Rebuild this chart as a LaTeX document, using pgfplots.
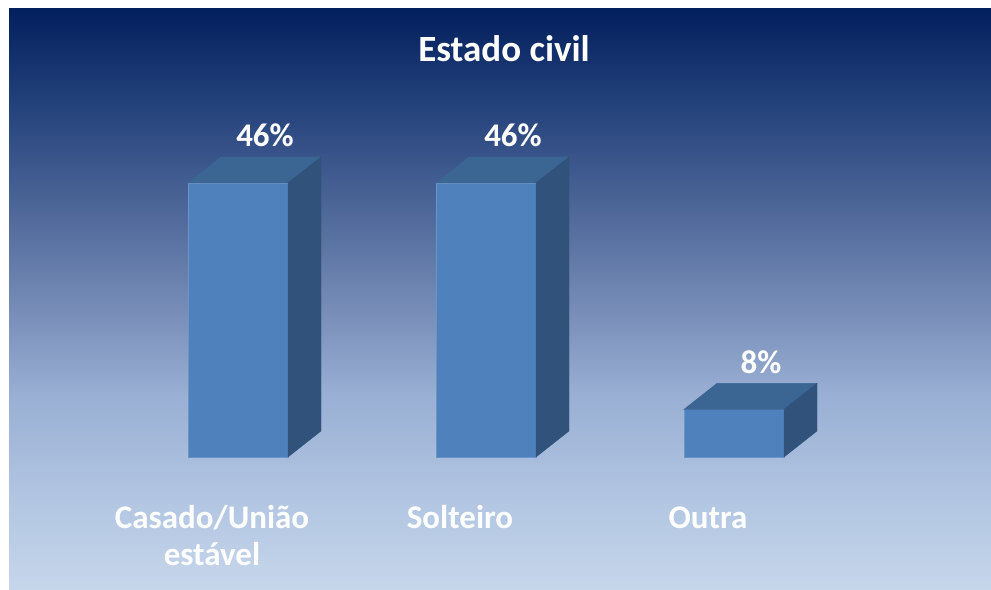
\documentclass[border=0pt]{standalone}
\usepackage{fontspec}
\setmainfont{Carlito}
\usepackage{pgfplots}
\pgfplotsset{compat=1.18}
\usepackage{pgfplotstable}

\definecolor{frontc}{HTML}{4F81BD}
\definecolor{topc}{HTML}{3B6592}
\definecolor{sidec}{HTML}{31527B}
\definecolor{bg0}{HTML}{03205E}
\definecolor{bg1}{HTML}{22407A}
\definecolor{bg2}{HTML}{4A6496}
\definecolor{bg3}{HTML}{7389B5}
\definecolor{bg4}{HTML}{9AB0D4}
\definecolor{bg5}{HTML}{B2C6E2}
\definecolor{bg6}{HTML}{C6D6EB}

% 25bp = bottom of the panel, 75bp = top
\pgfdeclareverticalshading{panel}{100bp}{%
  color(0bp)=(bg6); color(25bp)=(bg6); color(32.7bp)=(bg5);
  color(41.5bp)=(bg4); color(50bp)=(bg3); color(58.5bp)=(bg2);
  color(67.1bp)=(bg1); color(75bp)=(bg0); color(100bp)=(bg0)}

\pgfplotstableread{
x val
0 46
1 46
2 8
}\estado

\newcommand{\lab}{\fontsize{33bp}{37bp}\selectfont\bfseries}

\begin{document}
\begin{tikzpicture}[x=1bp,y=1bp]
\fill[white] (0,0) rectangle (991,590);
\shade[shading=panel] (9,0) rectangle (991,581);
\node[anchor=base, white, font={\fontsize{37bp}{42bp}\selectfont\bfseries}]
  at (504,528) {Estado civil};

\begin{axis}[
  x=248bp, y=5.9565bp,
  xmin=-0.6, xmax=2.6, ymin=0, ymax=50,
  enlargelimits=false,
  anchor=south west, at={(89.2bp,133bp)},
  clip=false,
  axis line style={draw=none},
  major tick length=0pt,
  ytick=\empty,
  xtick={0,1,2},
  xticklabels={{\begin{tabular}[t]{@{}c@{}}Casado/União\\estável\end{tabular}},Solteiro,Outra},
  xticklabel style={white, font=\lab,
    anchor=base, xshift=-26bp, yshift=-72bp},
  /pgf/number format/assume math mode=true,
]
% front faces
\addplot[ybar, bar width=100bp, bar shift=0pt,
  fill=frontc, draw=frontc!85!white, line width=0.6bp,
  nodes near coords={\pgfmathprintnumber[fixed,precision=0]{\pgfplotspointmeta}\%},
  every node near coord/.append style={white, font=\lab,
    anchor=base, xshift=27bp, yshift=36bp},
] table[x=x, y=val] {\estado};
% top and side faces
\addplot[scatter, only marks, mark=*, mark size=0pt,
  visualization depends on={\thisrow{val} \as \barval},
  scatter/@pre marker code/.code={
    \pgfmathsetmacro\Hb{26-\barval*5.9565}
    \pgfmathsetmacro\Hf{-\barval*5.9565}
    \fill[topc] (-50bp,0bp) -- (50bp,0bp) -- (83bp,26bp) -- (-17bp,26bp) -- cycle;
    \fill[sidec] (50bp,0bp) -- (83bp,26bp) -- (83bp,\Hb bp) -- (50bp,\Hf bp) -- cycle;
    \scope[draw=none, fill=none]
  },
  scatter/@post marker code/.code={\endscope},
] table[x=x, y=val] {\estado};
\end{axis}
\pgfresetboundingbox
\path[use as bounding box] (0,0) rectangle (991,590);
\end{tikzpicture}
\end{document}
